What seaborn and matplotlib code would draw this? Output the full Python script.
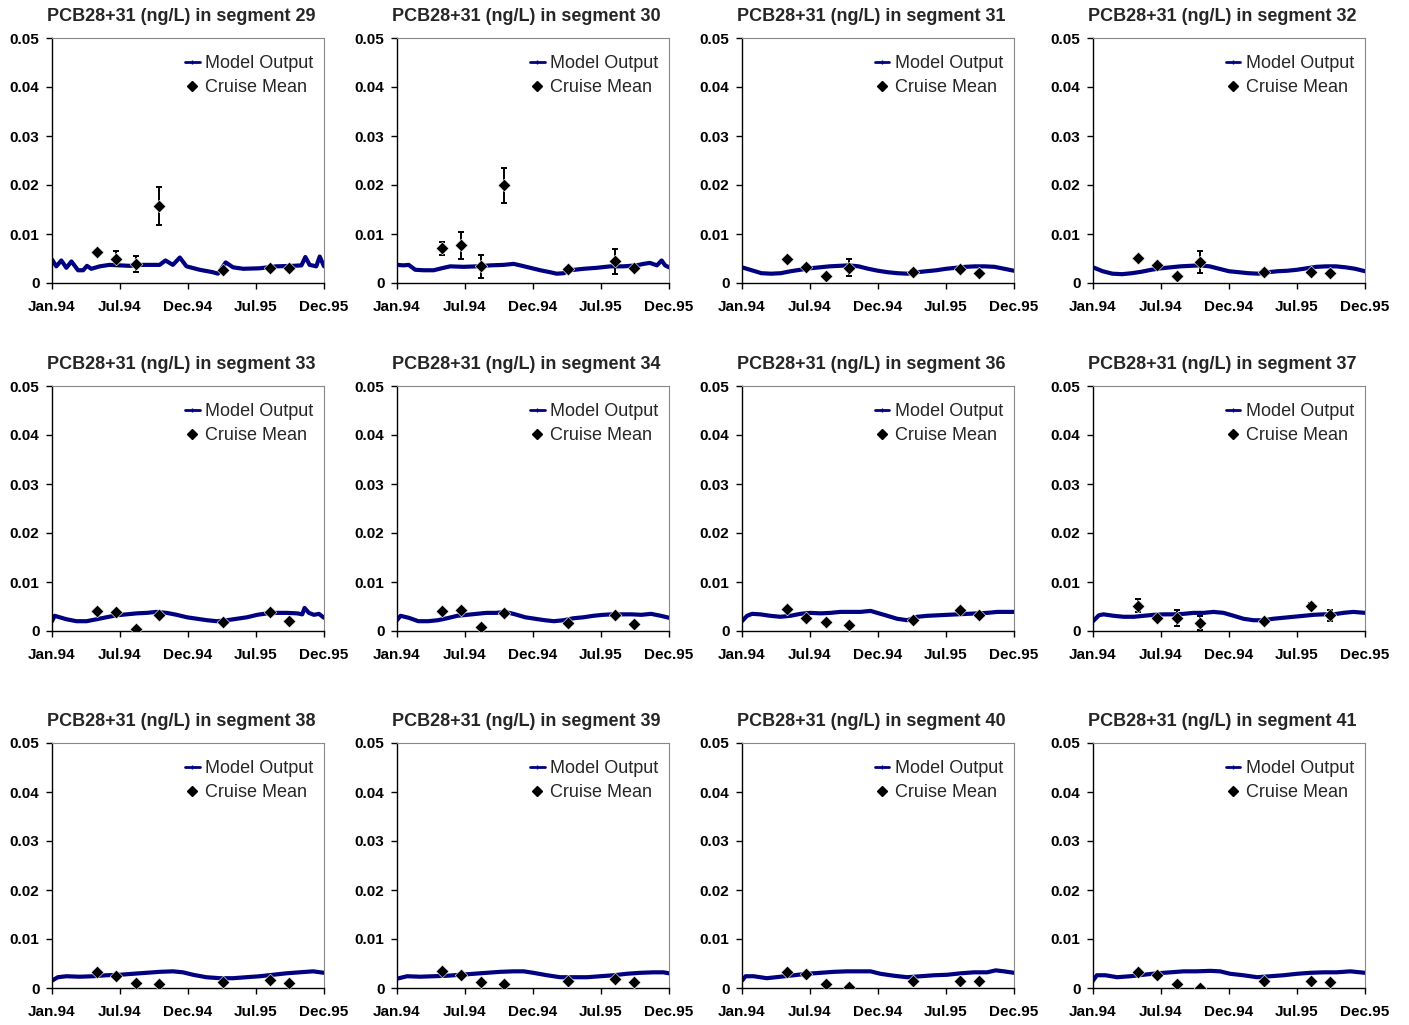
import matplotlib
matplotlib.use("Agg")
import matplotlib.pyplot as plt
from matplotlib.lines import Line2D
import seaborn as sns
import numpy as np

# days since 1 Jan 1994
cruise_days = [116, 164, 215, 275, 440, 562, 610]
tick_days = [0, 175, 350, 525, 700]
tick_labels = ["Jan.94", "Jul.94", "Dec.94", "Jul.95", "Dec.95"]
segments = [29, 30, 31, 32, 33, 34, 36, 37, 38, 39, 40, 41]

grid25 = list(range(0, 701, 25))

# model output
m29_days = [0, 11, 24, 37, 50, 67, 80, 90, 101, 123, 148, 200, 234, 277, 292, 311, 329, 346, 380, 414,
            427, 447, 466, 492, 534, 577, 620, 642, 652, 663, 680, 689, 700]
m29 = [0.0048, 0.0034, 0.0046, 0.0031, 0.0044, 0.0026, 0.0026, 0.0035, 0.0029, 0.0034, 0.0037, 0.0035,
       0.0037, 0.0037, 0.0046, 0.0037, 0.0052, 0.0034, 0.0027, 0.0022, 0.0019, 0.0042, 0.0032, 0.0029,
       0.0030, 0.0034, 0.0035, 0.0036, 0.0053, 0.0037, 0.0034, 0.0054, 0.0034]
m30_days = [0, 17, 30, 47, 69, 94, 120, 137, 171, 206, 240, 274, 300, 317, 343, 369, 394, 411, 429, 446,
            480, 514, 549, 583, 617, 634, 651, 669, 681, 690, 700]
m30 = [0.0037, 0.0036, 0.0037, 0.0027, 0.0026, 0.0026, 0.0031, 0.0034, 0.0033, 0.0034, 0.0036, 0.0037,
       0.0039, 0.0036, 0.0031, 0.0026, 0.0022, 0.0019, 0.0020, 0.0026, 0.0029, 0.0031, 0.0034, 0.0034,
       0.0036, 0.0039, 0.0041, 0.0036, 0.0046, 0.0036, 0.0032]
m31_days = grid25
m31 = [0.0032, 0.0026, 0.0020, 0.0019, 0.0020, 0.0024, 0.0027, 0.0030, 0.0032, 0.0034, 0.0035, 0.0036,
       0.0034, 0.0029, 0.0025, 0.0022, 0.0020, 0.0019, 0.0022, 0.0024, 0.0026, 0.0029, 0.0031, 0.0033,
       0.0034, 0.0034, 0.0033, 0.0029, 0.0025]
m32_days = grid25
m32 = [0.0032, 0.0024, 0.0019, 0.0018, 0.0020, 0.0023, 0.0027, 0.0030, 0.0032, 0.0034, 0.0035, 0.0036,
       0.0034, 0.0029, 0.0024, 0.0022, 0.0020, 0.0019, 0.0022, 0.0024, 0.0025, 0.0027, 0.0030, 0.0033,
       0.0034, 0.0034, 0.0032, 0.0029, 0.0024]
m33_days = [0, 7, 37, 63, 89, 115, 140, 166, 192, 218, 244, 269, 295, 321, 347, 373, 399, 424, 450, 476,
            502, 528, 554, 579, 605, 631, 644, 650, 661, 674, 687, 700]
m33 = [0.0020, 0.0031, 0.0024, 0.0020, 0.0020, 0.0024, 0.0028, 0.0032, 0.0034, 0.0036, 0.0037, 0.0039,
       0.0037, 0.0033, 0.0028, 0.0025, 0.0022, 0.0020, 0.0022, 0.0025, 0.0028, 0.0033, 0.0036, 0.0037,
       0.0037, 0.0036, 0.0034, 0.0047, 0.0037, 0.0033, 0.0035, 0.0027]
m34_days = [0, 9, 30, 55, 80, 105, 129, 155, 180, 205, 230, 255, 279, 304, 330, 355, 380, 404, 429, 454,
            480, 505, 530, 554, 579, 604, 629, 654, 679, 700]
m34 = [0.0022, 0.0031, 0.0027, 0.0020, 0.0020, 0.0022, 0.0026, 0.0031, 0.0033, 0.0035, 0.0037, 0.0037,
       0.0039, 0.0034, 0.0028, 0.0025, 0.0022, 0.0020, 0.0022, 0.0026, 0.0028, 0.0031, 0.0033, 0.0034,
       0.0034, 0.0034, 0.0033, 0.0035, 0.0031, 0.0027]
m36_days = [0, 13, 26, 47, 73, 99, 125, 150, 176, 202, 228, 253, 279, 305, 331, 348, 374, 399, 425, 451,
            477, 503, 528, 554, 580, 606, 631, 657, 683, 700]
m36 = [0.0020, 0.0031, 0.0035, 0.0034, 0.0031, 0.0029, 0.0031, 0.0035, 0.0037, 0.0036, 0.0037, 0.0039,
       0.0039, 0.0039, 0.0041, 0.0037, 0.0031, 0.0025, 0.0022, 0.0029, 0.0031, 0.0032, 0.0033, 0.0034,
       0.0035, 0.0036, 0.0037, 0.0039, 0.0039, 0.0039]
m37_days = [0, 15, 27, 53, 79, 105, 130, 156, 182, 207, 233, 259, 285, 310, 336, 362, 387, 413, 439, 464,
            490, 516, 542, 567, 593, 619, 644, 670, 700]
m37 = [0.0020, 0.0032, 0.0034, 0.0031, 0.0029, 0.0029, 0.0031, 0.0033, 0.0034, 0.0034, 0.0035, 0.0037,
       0.0037, 0.0039, 0.0037, 0.0031, 0.0025, 0.0022, 0.0022, 0.0025, 0.0027, 0.0029, 0.0031, 0.0033,
       0.0034, 0.0034, 0.0037, 0.0039, 0.0037]
m38_days = [0, 15, 37, 71, 106, 140, 174, 208, 243, 277, 311, 337, 363, 397, 432, 466, 500, 535, 569, 603,
            637, 672, 700]
m38 = [0.0015, 0.0022, 0.0024, 0.0023, 0.0024, 0.0026, 0.0027, 0.0029, 0.0031, 0.0033, 0.0034, 0.0032,
       0.0027, 0.0022, 0.0020, 0.0020, 0.0022, 0.0024, 0.0027, 0.0030, 0.0032, 0.0034, 0.0031]
m39_days = [0, 26, 60, 94, 129, 163, 197, 231, 266, 300, 326, 351, 386, 420, 454, 489, 523, 557, 591, 626,
            660, 686, 700]
m39 = [0.0019, 0.0024, 0.0023, 0.0024, 0.0025, 0.0027, 0.0029, 0.0031, 0.0033, 0.0034, 0.0034, 0.0031,
       0.0026, 0.0022, 0.0022, 0.0022, 0.0024, 0.0026, 0.0029, 0.0031, 0.0032, 0.0032, 0.0030]
m40_days = [0, 9, 30, 64, 99, 133, 167, 202, 236, 271, 305, 331, 356, 391, 425, 460, 494, 528, 563, 597,
            631, 653, 674, 700]
m40 = [0.0015, 0.0024, 0.0024, 0.0020, 0.0023, 0.0026, 0.0029, 0.0031, 0.0033, 0.0034, 0.0034, 0.0034,
       0.0029, 0.0025, 0.0022, 0.0024, 0.0026, 0.0027, 0.0030, 0.0032, 0.0032, 0.0036, 0.0034, 0.0031]
m41_days = [0, 10, 32, 62, 96, 130, 165, 199, 233, 267, 302, 327, 353, 387, 422, 456, 490, 525, 559, 593,
            627, 662, 700]
m41 = [0.0015, 0.0026, 0.0026, 0.0022, 0.0024, 0.0027, 0.0030, 0.0032, 0.0034, 0.0034, 0.0035, 0.0034,
       0.0029, 0.0026, 0.0022, 0.0024, 0.0026, 0.0029, 0.0031, 0.0032, 0.0032, 0.0034, 0.0031]

# cruise means and error bars
c29 = [0.0063, 0.0050, 0.0039, 0.0157, 0.0026, 0.0031, 0.0031]
e29 = [0, 0.0016, 0.0016, 0.0038, 0, 0, 0]
c30 = [0.0071, 0.0077, 0.0034, 0.0199, 0.0029, 0.0044, 0.0031]
e30 = [0.0013, 0.0027, 0.0023, 0.0036, 0, 0.0026, 0.0004]
c31 = [0.0050, 0.0032, 0.0015, 0.0031, 0.0022, 0.0029, 0.0020]
e31 = [0, 0, 0, 0.0017, 0, 0.0004, 0]
c32 = [0.0052, 0.0037, 0.0014, 0.0043, 0.0023, 0.0023, 0.0020]
e32 = [0, 0, 0, 0.0023, 0, 0, 0]
c33 = [0.0041, 0.0039, 0.0005, 0.0033, 0.0018, 0.0039, 0.0020]
c34 = [0.0041, 0.0043, 0.0009, 0.0037, 0.0017, 0.0032, 0.0015]
c36 = [0.0045, 0.0027, 0.0018, 0.0012, 0.0022, 0.0043, 0.0033]
c37 = [0.0052, 0.0027, 0.0027, 0.0017, 0.0020, 0.0051, 0.0032]
e37 = [0.0014, 0, 0.0016, 0.0014, 0, 0.0007, 0.0011]
c38 = [0.0032, 0.0025, 0.0011, 0.0008, 0.0012, 0.0016, 0.0011]
c39 = [0.0034, 0.0026, 0.0012, 0.0008, 0.0014, 0.0019, 0.0012]
c40 = [0.0032, 0.0029, 0.0008, 0.0003, 0.0015, 0.0015, 0.0014]
c41 = [0.0033, 0.0027, 0.0008, 0.0001, 0.0015, 0.0015, 0.0012]
no_err = [0] * 7

panels = [
    (29, m29_days, m29, c29, e29), (30, m30_days, m30, c30, e30),
    (31, m31_days, m31, c31, e31), (32, m32_days, m32, c32, e32),
    (33, m33_days, m33, c33, no_err), (34, m34_days, m34, c34, no_err),
    (36, m36_days, m36, c36, no_err), (37, m37_days, m37, c37, e37),
    (38, m38_days, m38, c38, no_err), (39, m39_days, m39, c39, no_err),
    (40, m40_days, m40, c40, no_err), (41, m41_days, m41, c41, no_err),
]

sns.set_style("ticks")
plt.rcParams["font.family"] = ["Liberation Sans", "DejaVu Sans"]

W, H = 1409, 1025
fig = plt.figure(figsize=(W / 100, H / 100), dpi=100)

col_left = [52, 397, 742, 1093]
row_top = [38, 386, 743]
pw, ph = 272, 245

line_col = "#000080"

for i, (seg, mdays, mvals, cvals, cerr) in enumerate(panels):
    r, c = divmod(i, 4)
    ax = fig.add_axes([col_left[c] / W, 1 - (row_top[r] + ph) / H, pw / W, ph / H])
    sns.lineplot(x=mdays, y=mvals, ax=ax, color=line_col, lw=3.0)
    ed = [d for d, e in zip(cruise_days, cerr) if e > 0]
    ev = [v for v, e in zip(cvals, cerr) if e > 0]
    ee = [e for e in cerr if e > 0]
    if ed:
        ax.errorbar(ed, ev, yerr=ee, fmt="none", ecolor="black", elinewidth=1.4, capsize=2.5, capthick=1.4)
    sns.scatterplot(x=cruise_days, y=cvals, ax=ax, marker="D", s=42, color="black",
                    edgecolor="white", linewidth=0.4, zorder=5)
    ax.set_xlim(0, 700)
    ax.set_ylim(0, 0.05)
    ax.set_xticks(tick_days)
    ax.set_xticklabels(tick_labels, fontsize=11, fontweight="bold")
    ax.set_yticks([0, 0.01, 0.02, 0.03, 0.04, 0.05])
    ax.set_yticklabels(["0", "0.01", "0.02", "0.03", "0.04", "0.05"], fontsize=11, fontweight="bold")
    ax.tick_params(direction="out", length=4, width=1, colors="black")
    ax.tick_params(axis="x", pad=8)
    ax.tick_params(axis="y", pad=5)
    for s in ["top", "right"]:
        ax.spines[s].set_visible(True)
        ax.spines[s].set_color("#888888")
    for s in ["left", "bottom"]:
        ax.spines[s].set_color("black")
        ax.spines[s].set_linewidth(1.0)
    ax.set_xlabel("")
    ax.set_ylabel("")
    ax.set_title(f"PCB28+31 (ng/L) in segment {seg}", fontsize=13, fontweight="bold", pad=12, x=0.474)
    handles = [
        Line2D([], [], color=line_col, lw=2, marker="|", markersize=3),
        Line2D([], [], color="black", marker="D", ls="none", markersize=5),
    ]
    ax.legend(handles, ["Model Output", "Cruise Mean"], loc="upper right", frameon=False,
              fontsize=13, handlelength=0.8, handletextpad=0.3, labelspacing=0.4,
              bbox_to_anchor=(1.0, 0.975), borderaxespad=0.2)

fig.savefig("out.png", dpi=100)
